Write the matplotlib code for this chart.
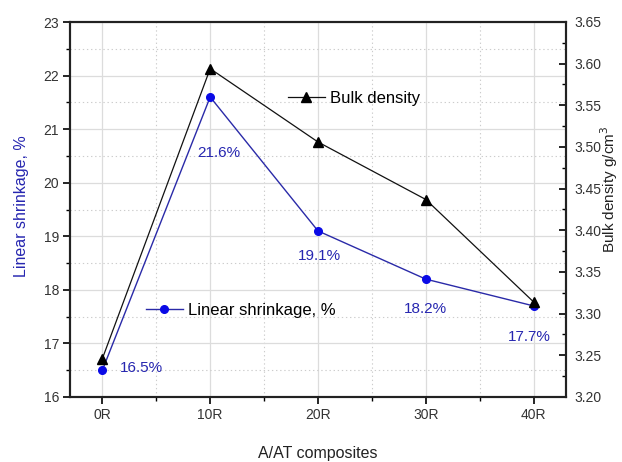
import numpy as np
import matplotlib.pyplot as plt
from matplotlib.ticker import MultipleLocator, FormatStrFormatter

plt.rcParams['font.family'] = ['Liberation Sans', 'DejaVu Sans']

# composites and measured properties
categories = ['0R', '10R', '20R', '30R', '40R']
shrinkage = [16.5, 21.6, 19.1, 18.2, 17.7]           # linear shrinkage, %
density = [3.246, 3.594, 3.506, 3.437, 3.314]       # bulk density, g/cm3
shrink_labels = ['16.5%', '21.6%', '19.1%', '18.2%', '17.7%']
# label offsets in pixels relative to each point
label_offsets = [(18, 2, 'left'), (9, -56, 'center'), (1, -25, 'center'),
                 (0, -30, 'center'), (-4, -31, 'center')]

blue_line = '#2a2aa8'
blue_mark = '#0a0ae6'
blue_text = '#2626b0'

fig = plt.figure(figsize=(6.22, 4.62), dpi=100)
ax = fig.add_axes([70 / 622, 1 - 397 / 462, 496 / 622, 375 / 462])
x = np.arange(len(categories))

ax.set_xlim(-0.3, 4.3)
ax.set_ylim(16, 23)
ax.set_xticks(x)
ax.set_xticklabels(categories)
ax.xaxis.set_minor_locator(MultipleLocator(0.5))
ax.yaxis.set_major_locator(MultipleLocator(1))
ax.yaxis.set_minor_locator(MultipleLocator(0.5))

ax.grid(which='major', color='#dcdcdc', linestyle='-', linewidth=0.9)
ax.grid(which='minor', color='#cccccc', linestyle=(0, (1.2, 2.5)), linewidth=0.8)
ax.set_axisbelow(True)

l1, = ax.plot(x, shrinkage, color=blue_line, linewidth=1.0, marker='o',
              markersize=5.5, markerfacecolor=blue_mark, markeredgecolor=blue_mark,
              label='Linear shrinkage, %', zorder=3)

for xi, yi, txt, (dx, dy, ha) in zip(x, shrinkage, shrink_labels, label_offsets):
    ax.annotate(txt, xy=(xi, yi), xytext=(dx, dy), textcoords='offset pixels',
                ha=ha, va='center', fontsize=11, color=blue_text)

ax.tick_params(axis='both', which='major', direction='out', length=5, width=1.2,
               labelsize=10, labelcolor='#333333', pad=3)
ax.tick_params(axis='both', which='minor', direction='out', length=3, width=1.0)
ax.tick_params(axis='y', which='both', right=False)
ax.tick_params(axis='x', which='both', top=False)
for s in ax.spines.values():
    s.set_linewidth(1.5)
    s.set_color('#222222')

ax.set_ylabel('Linear shrinkage, %', fontsize=11.5, color=blue_text, labelpad=10)
ax.yaxis.label.set_y(0.51)
ax.set_xlabel('A/AT composites', fontsize=11.5, color='#222222', labelpad=17)

ax2 = ax.twinx()
ax2.set_ylim(3.20, 3.65)
ax2.yaxis.set_major_locator(MultipleLocator(0.05))
ax2.yaxis.set_minor_locator(MultipleLocator(0.025))
ax2.yaxis.set_major_formatter(FormatStrFormatter('%.2f'))
ax2.tick_params(axis='y', which='major', direction='in', length=5, width=1.2,
                labelsize=10, labelcolor='#333333', pad=6)
ax2.tick_params(axis='y', which='minor', direction='in', length=3, width=1.0)
for s in ax2.spines.values():
    s.set_linewidth(1.5)
    s.set_color('#222222')

l2, = ax2.plot(x, density, color='#111111', linewidth=0.9, marker='^',
               markersize=7.5, markerfacecolor='black', markeredgecolor='black',
               label='Bulk density', zorder=4)

ax2.set_ylabel('Bulk density g/cm$^3$', fontsize=11, color='#222222', labelpad=-2)
ax2.yaxis.label.set_y(0.555)

leg1 = ax2.legend(handles=[l2], loc='center left', bbox_to_anchor=(0.4395, 0.797),
                  frameon=False, fontsize=12, handlelength=2.2, handletextpad=0.3,
                  borderpad=0, borderaxespad=0, numpoints=1)
ax2.add_artist(leg1)
ax2.legend(handles=[l1], loc='center left', bbox_to_anchor=(0.153, 0.232),
           frameon=False, fontsize=12, handlelength=2.2, handletextpad=0.3,
           borderpad=0, borderaxespad=0, numpoints=1)

fig.savefig('out.png', dpi=100)
